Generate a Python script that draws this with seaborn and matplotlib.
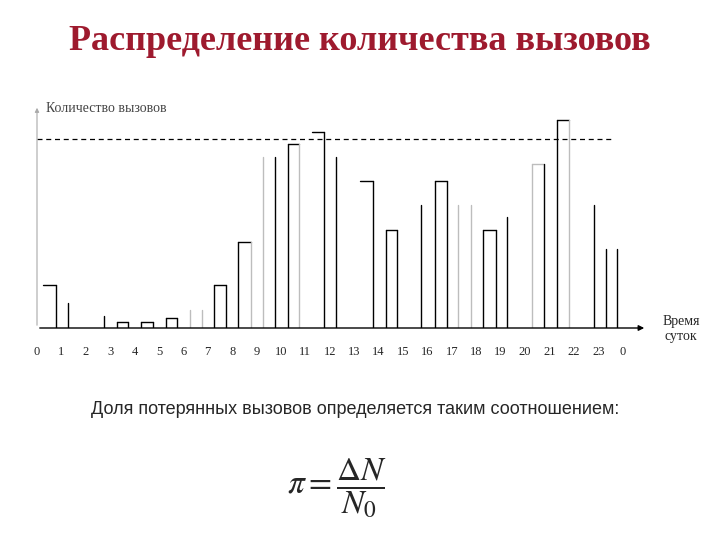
import matplotlib
matplotlib.use("Agg")
import matplotlib.pyplot as plt
import seaborn as sns

# hourly call-count bars: left/right edge (hours), height, side colours (left, top, right)
bar_left = [0.25, 3.28, 4.26, 5.29, 7.25, 8.24, 9.26, 10.29, 11.27, 13.24, 14.30, 16.31, 18.28, 20.30, 21.31]
bar_right = [0.78, 3.73, 4.75, 5.74, 7.75, 8.77, 9.75, 10.74, 11.76, 13.77, 14.75, 16.80, 18.81, 20.78, 21.80]
bar_height = [43, 6, 6, 10, 43, 86, 171, 184, 196, 147, 98, 147, 98, 164, 208]
bar_sides = ["-kk", "kkk", "kkk", "kkk", "kkk", "kkg", "g-k", "kkg", "-kk", "-kk", "kkk", "kkk", "kkk", "ggk", "kkg"]

# single vertical strokes
line_x = [1.26, 2.75, 6.27, 6.76, 12.25, 15.75, 17.25, 17.79, 19.26, 22.83, 23.32, 23.77]
line_h = [25, 12, 18, 18, 171, 123, 123, 123, 111, 123, 79, 79]
line_c = ["k", "k", "g", "g", "k", "k", "g", "g", "k", "k", "k", "k"]

threshold = 189
hour_labels = [str(h) for h in range(24)] + ["0"]

colors = {"k": "black", "g": "#bdbdbd"}

sns.set_style("white")
plt.rcParams["font.family"] = ["Liberation Serif", "DejaVu Serif"]
plt.rcParams["mathtext.fontset"] = "stix"

fig = plt.figure(figsize=(7.2, 5.4), dpi=100)
fig.text(0.5, 1 - 42 / 540, "Распределение количества вызовов", ha="center", va="center",
         fontsize=26, fontweight="bold", color="#9e1a2e")

ax = fig.add_axes([37 / 720, 1 - 328 / 540, 610 / 720, 223 / 540])
ax.set_xlim(0, 25)
ax.set_ylim(0, 223)

for l, r, h, s in zip(bar_left, bar_right, bar_height, bar_sides):
    if s[0] != "-":
        ax.plot([l, l], [0, h], color=colors[s[0]], lw=1)
    if s[1] != "-":
        ax.plot([l, r], [h, h], color=colors[s[1]], lw=1)
    if s[2] != "-":
        ax.plot([r, r], [0, h], color=colors[s[2]], lw=1)

for x, h, c in zip(line_x, line_h, line_c):
    ax.plot([x, x], [0, h], color=colors[c], lw=1)

ax.plot([0, 23.57], [threshold, threshold], color="black", lw=0.9, ls=(0, (4, 3)))

# axes with arrows
ax.annotate("", xy=(25, 0), xytext=(0, 0),
            arrowprops=dict(arrowstyle="-|>", color="black", lw=1, mutation_scale=8))
ax.annotate("", xy=(0, 223), xytext=(0, 0),
            arrowprops=dict(arrowstyle="-|>", color="#aaaaaa", lw=0.8, mutation_scale=6))

for s in ax.spines.values():
    s.set_visible(False)
ax.set_yticks([])
ax.set_xticks(range(25))
ax.set_xticklabels(hour_labels, fontsize=9)
ax.tick_params(axis="x", length=4, width=0.6, color="#999999", pad=9)

ax.text(0.35, 220, "Количество вызовов", fontsize=10, color="#444444", va="center", ha="left")
fig.text(681 / 720, 1 - 329 / 540, "Время\nсуток", ha="center", va="center",
         fontsize=10, linespacing=1.25)

fig.text(355 / 720, 1 - 410 / 540, "Доля потерянных вызовов определяется таким соотношением:",
         ha="center", va="center", fontsize=13, family=["Liberation Sans", "DejaVu Sans"])
fig.text(337 / 720, 1 - 488 / 540, r"$\pi = \dfrac{\Delta N}{N_0}$", ha="center", va="center",
         fontsize=24)

fig.savefig("out.png", dpi=100)
